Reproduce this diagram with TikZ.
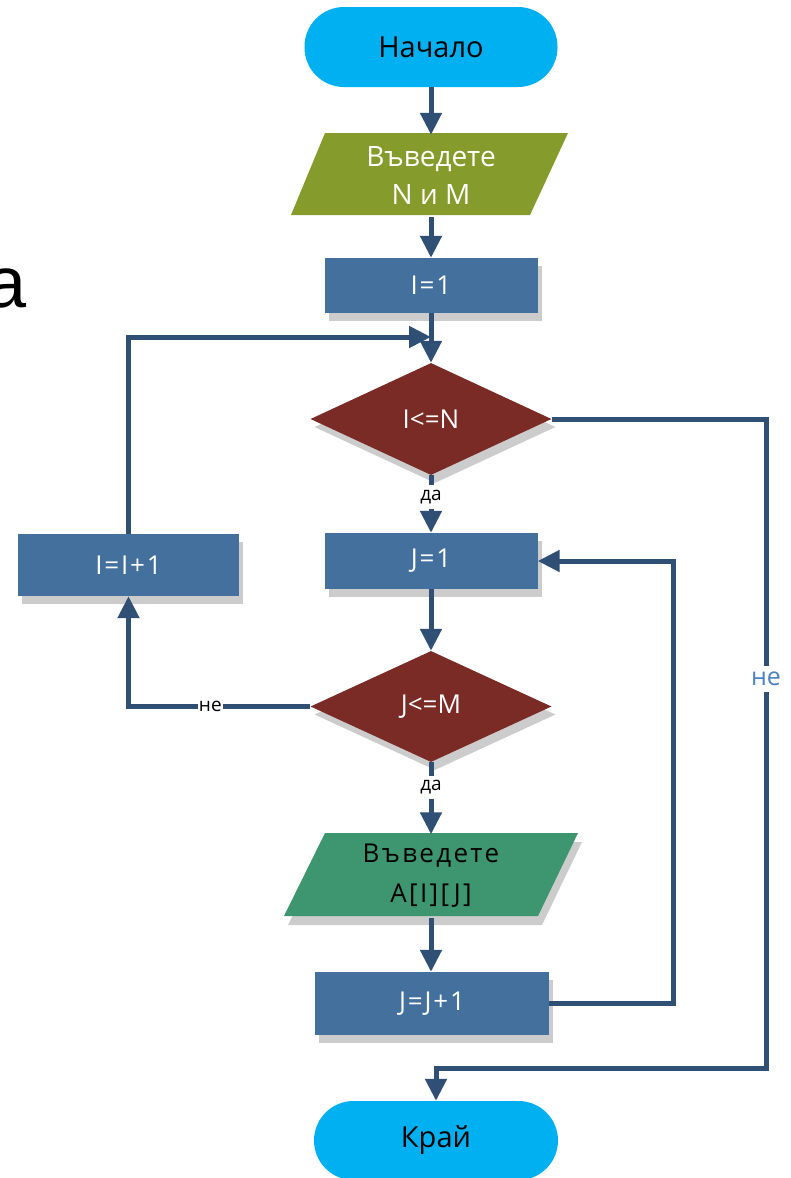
\documentclass[tikz,border=0pt]{standalone}
\usepackage{fontspec}
\setmainfont{Open Sans}
\newfontfamily\arialfont{Liberation Sans}
\usetikzlibrary{arrows.meta,shapes.geometric,shadows,calc}

\definecolor{termcyan}{HTML}{00B0F0}
\definecolor{procblue}{HTML}{44709D}
\definecolor{decred}{HTML}{7B2B26}
\definecolor{flowline}{HTML}{2F4F75}
\definecolor{inolive}{HTML}{859B2B}
\definecolor{ingreen}{HTML}{3D9670}
\definecolor{nolabel}{HTML}{4F81BD}
\definecolor{shadowgray}{HTML}{CCCCCC}

\begin{document}
\begin{tikzpicture}[x=1pt,y=-1pt,
  boxshadow/.style={drop shadow={shadow xshift=4pt,shadow yshift=-8pt,fill=shadowgray,opacity=1}},
  terminal/.style={fill=termcyan,rounded corners=39.5pt,inner sep=0pt,
    font=\fontsize{29}{34}\selectfont},
  process/.style={fill=procblue,boxshadow,text=white,inner sep=0pt,
    font=\addfontfeature{LetterSpace=7}\fontsize{26}{30}\selectfont},
  decision/.style={diamond,fill=decred,boxshadow,text=white,aspect=2.15,
    minimum width=241pt,minimum height=112pt,inner sep=0pt,
    font=\fontsize{26}{30}\selectfont},
  iotext/.style={inner sep=0pt,align=center},
  flow/.style={draw=flowline,line width=5pt,-{Triangle[length=22pt,width=21pt]}},
  yesno/.style={fill=white,inner xsep=1pt,inner ysep=5pt,font=\fontsize{19}{22}\selectfont},
]
\useasboundingbox (0,0) rectangle (790,1178);

% letter running in from the left edge
\node[font=\arialfont\fontsize{72}{80}\selectfont,anchor=base east,inner sep=0pt]
  (leftletter) at (27,307) {a};

% terminals
\node[terminal,minimum width=253pt,minimum height=80pt] (start) at (431,47) {Начало};
\node[terminal,minimum width=244pt,minimum height=79pt] (kraj) at (436,1140.5) {Край};

% input: N and M
\fill[inolive] (291,215) -- (530,215) -- (568,133) -- (325,133) -- cycle;
\node[iotext,text=white,minimum width=239pt,minimum height=82pt,
  font=\fontsize{28}{38}\selectfont] (in1) at (431,176) {Въведете\\N и M};

% processes
\node[process,minimum width=213pt,minimum height=55pt] (i1) at (431,285.5) {I=1};
\node[process,minimum width=213pt,minimum height=56pt] (j1) at (431,561) {J=1};
\node[process,minimum width=221pt,minimum height=62pt] (ii) at (128.5,565) {I=I+1};

% decisions
\node[decision] (c1) at (431,419) {I<=N};
\node[decision,minimum height=111pt] (c2) at (431,706.5) {J<=M};

% input: A[I][J]
\fill[shadowgray] (288,925) -- (542,925) -- (582,842) -- (329,842) -- cycle;
\fill[ingreen] (284,916) -- (538,916) -- (578,833) -- (325,833) -- cycle;
\node[iotext,minimum width=254pt,minimum height=83pt,
  font=\addfontfeature{LetterSpace=9}\fontsize{26}{40}\selectfont] (in2) at (431,876) {Въведете\\A[I][J]};

\node[process,minimum width=234pt,minimum height=63pt] (jj) at (432,1003.5) {J=J+1};

% helper points of the loops
\coordinate (merge) at (431,337);
\coordinate (jloop) at (673,0);
\coordinate (rcorner) at (766,1068);

% main column
\draw[flow] (start) -- (in1.north);
\draw[flow] (in1.south) -- (i1);
\draw[flow] (ii.north) |- (merge);
\draw[flow] (i1) -- (c1);
\draw[flow] (c1) -- (j1) node[yesno,pos=0.38] {да};
\draw[flow] (j1) -- (c2);
\draw[flow] (c2) -- (in2.north) node[yesno,pos=0.35] {да};
\draw[flow] (in2.south) -- (in2.south |- jj.north);

% loops
\draw[flow] (c2.west) -| (ii.south) node[yesno,pos=0.275,inner ysep=3pt] {не};
\draw[flow] (jj.east) -| (jloop |- j1.east) -- (j1.east);
\draw[flow] (c1.east) -| (rcorner)
  node[fill=white,inner xsep=1pt,inner ysep=6pt,text=nolabel,
       font=\fontsize{25}{28}\selectfont,pos=0.70] {не}
  -| (kraj.north);
\end{tikzpicture}
\end{document}
